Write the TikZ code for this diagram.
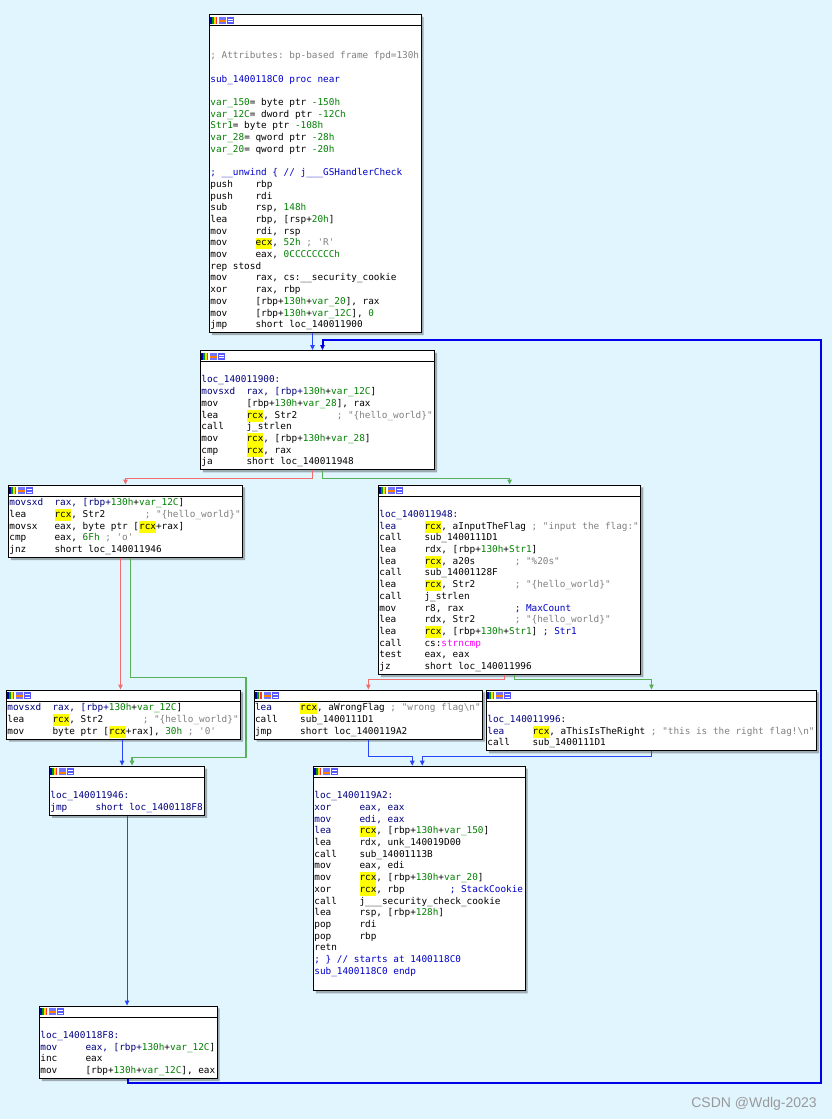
\documentclass[tikz,border=0pt]{standalone}
\usepackage{fontspec}
\setmonofont{DejaVu Sans Mono}
\newfontfamily\markfont{Liberation Sans}
\usepackage{tikz}
\usetikzlibrary{shapes.multipart, arrows.meta, shadows}
\usepackage{xcolor}

\definecolor{graphbg}{RGB}{225,245,255}
\definecolor{asmnavy}{RGB}{0,0,128}
\definecolor{asmgreen}{RGB}{0,128,0}
\definecolor{asmgray}{RGB}{128,128,128}
\definecolor{asmblue}{RGB}{0,0,200}
\definecolor{asmpink}{RGB}{255,0,255}
\definecolor{asmyellow}{RGB}{255,255,0}
\definecolor{edgeblue}{RGB}{40,70,255}
\definecolor{edgered}{RGB}{240,110,110}
\definecolor{edgegreen}{RGB}{90,175,90}
\definecolor{loopblue}{RGB}{0,0,235}

\setlength{\fboxsep}{0pt}
% fixed pitch font, every space one character wide
\newcommand{\asmfont}{\ttfamily\fontsize{9.37pt}{11.7pt}\selectfont
  \fontdimen2\font=5.64pt\relax\fontdimen3\font=0pt\relax\fontdimen4\font=0pt\relax
  \spaceskip=5.64pt\relax\xspaceskip=5.64pt\relax\frenchspacing}
% one instruction: mnemonic column is 8 characters wide
\newcommand{\ins}[2]{\strut\makebox[45.12pt][l]{#1}#2}
% operands padded up to the comment column
\newcommand{\pad}[1]{\makebox[90.24pt][l]{#1}}
\newcommand{\reg}[1]{\colorbox{asmyellow}{\strut #1}}
\newcommand{\imm}[1]{\textcolor{asmgreen}{#1}}
\newcommand{\cmg}[1]{\textcolor{asmgray}{#1}}
\newcommand{\cmb}[1]{\textcolor{asmblue}{#1}}
\newcommand{\hdricons}{\rule{0pt}{8.5pt}%
  \raisebox{0.7pt}{\textcolor{blue!70!black}{\rule{1.75pt}{7pt}}\textcolor{green!60!black}{\rule{1.75pt}{7pt}}%
  \textcolor{yellow!90!red}{\rule{1.75pt}{7pt}}\textcolor{red!80}{\rule{1.75pt}{7pt}}}\hspace{1.5pt}%
  \raisebox{0.7pt}{\textcolor{blue!55}{\rule{7pt}{7pt}}}\hspace{-7pt}\raisebox{2.5pt}{\textcolor{orange}{\rule{7pt}{2pt}}}\hspace{1.5pt}%
  \raisebox{0.7pt}{\textcolor{blue!65}{\rule{7pt}{7pt}}}\hspace{-6pt}\raisebox{2.2pt}{\textcolor{white}{\rule{5pt}{1pt}}}\hspace{-5pt}\raisebox{4.6pt}{\textcolor{white}{\rule{5pt}{1pt}}}}

\begin{document}
\begin{tikzpicture}[x=1pt, y=-1pt,
    blk/.style={rectangle split, rectangle split parts=2, draw=black, line width=0.8pt,
                fill=white, anchor=north west, inner xsep=1pt, inner ysep=1pt, align=flush left,
                font=\asmfont, text=asmnavy,
                drop shadow={shadow xshift=2.5pt, shadow yshift=-2.5pt, fill=black, opacity=0.3}},
    flow/.style={draw=edgeblue, line width=1pt, -{Triangle[length=5pt,width=4.5pt]}},
    jtrue/.style={flow, draw=edgegreen, line width=1.3pt},
    jfalse/.style={flow, draw=edgered, line width=1.3pt},
    back/.style={flow, draw=loopblue, line width=2pt}]

  \useasboundingbox (0,0) rectangle (832,1119);
  \fill[graphbg] (0,0) rectangle (832,1119);

  \node[blk, text width=209.7pt] (fn) at (209,14) {\hdricons
    \nodepart{two}\strut\\ \strut\\
    \cmg{; Attributes: bp-based frame fpd=130h}\\ \strut\\
    \cmb{sub\_1400118C0 proc near}\\ \strut\\
    \imm{var\_150}= byte ptr \imm{-150h}\\
    \imm{var\_12C}= dword ptr \imm{-12Ch}\\
    \imm{Str1}= byte ptr \imm{-108h}\\
    \imm{var\_28}= qword ptr \imm{-28h}\\
    \imm{var\_20}= qword ptr \imm{-20h}\\ \strut\\
    \cmb{; \_\_unwind \{ // j\_\_\_GSHandlerCheck}\\
    \ins{push}{rbp}\\
    \ins{push}{rdi}\\
    \ins{sub}{rsp, \imm{148h}}\\
    \ins{lea}{rbp, [rsp+\imm{20h}]}\\
    \ins{mov}{rdi, rsp}\\
    \ins{mov}{\reg{ecx}, \imm{52h} \cmg{; 'R'}}\\
    \ins{mov}{eax, \imm{0CCCCCCCCh}}\\
    rep stosd\\
    \ins{mov}{rax, cs:\_\_security\_cookie}\\
    \ins{xor}{rax, rbp}\\
    \ins{mov}{[rbp+\imm{130h}+\imm{var\_20}], rax}\\
    \ins{mov}{[rbp+\imm{130h}+\imm{var\_12C}], \imm{0}}\\
    \ins{jmp}{short loc\_140011900}};

  \node[blk, text width=232.2pt] (l900) at (200,350) {\hdricons
    \nodepart{two}\strut\\
    loc\_140011900:\\
    \ins{movsxd}{rax, [rbp+\imm{130h}+\imm{var\_12C}]}\\
    \ins{mov}{[rbp+\imm{130h}+\imm{var\_28}], rax}\\
    \ins{lea}{\pad{\reg{rcx}, Str2}\cmg{; "\{hello\_world\}"}}\\
    \ins{call}{j\_strlen}\\
    \ins{mov}{\reg{rcx}, [rbp+\imm{130h}+\imm{var\_28}]}\\
    \ins{cmp}{\reg{rcx}, rax}\\
    \ins{ja}{short loc\_140011948}};

  \node[blk, text width=232.2pt] (chk) at (8,484.5) {\hdricons
    \nodepart{two}\ins{movsxd}{rax, [rbp+\imm{130h}+\imm{var\_12C}]}\\
    \ins{lea}{\pad{\reg{rcx}, Str2}\cmg{; "\{hello\_world\}"}}\\
    \ins{movsx}{eax, byte ptr [\reg{rcx}+rax]}\\
    \ins{cmp}{eax, \imm{6Fh} \cmg{; 'o'}}\\
    \ins{jnz}{short loc\_140011946}};

  \node[blk, text width=260.4pt] (l948) at (378,484.5) {\hdricons
    \nodepart{two}\strut\\
    loc\_140011948:\\
    \ins{lea}{\reg{rcx}, aInputTheFlag \cmg{; "input the flag:"}}\\
    \ins{call}{sub\_1400111D1}\\
    \ins{lea}{rdx, [rbp+\imm{130h}+\imm{Str1}]}\\
    \ins{lea}{\pad{\reg{rcx}, a20s}\cmg{; "\%20s"}}\\
    \ins{call}{sub\_14001128F}\\
    \ins{lea}{\pad{\reg{rcx}, Str2}\cmg{; "\{hello\_world\}"}}\\
    \ins{call}{j\_strlen}\\
    \ins{mov}{\pad{r8, rax}\cmb{; MaxCount}}\\
    \ins{lea}{\pad{rdx, Str2}\cmg{; "\{hello\_world\}"}}\\
    \ins{lea}{\reg{rcx}, [rbp+\imm{130h}+\imm{Str1}] \cmb{; Str1}}\\
    \ins{call}{cs:\textcolor{asmpink}{strncmp}}\\
    \ins{test}{eax, eax}\\
    \ins{jz}{short loc\_140011996}};

  \node[blk, text width=232.2pt] (setz) at (6,689.5) {\hdricons
    \nodepart{two}\ins{movsxd}{rax, [rbp+\imm{130h}+\imm{var\_12C}]}\\
    \ins{lea}{\pad{\reg{rcx}, Str2}\cmg{; "\{hello\_world\}"}}\\
    \ins{mov}{byte ptr [\reg{rcx}+rax], \imm{30h} \cmg{; '0'}}};

  \node[blk, text width=226.6pt] (wrong) at (253.7,689.5) {\hdricons
    \nodepart{two}\ins{lea}{\reg{rcx}, aWrongFlag \cmg{; "wrong flag\textbackslash n"}}\\
    \ins{call}{sub\_1400111D1}\\
    \ins{jmp}{short loc\_1400119A2}};

  \node[blk, text width=328.1pt] (l996) at (486,689.5) {\hdricons
    \nodepart{two}\strut\\
    loc\_140011996:\\
    \ins{lea}{\reg{rcx}, aThisIsTheRight \cmg{; "this is the right flag!\textbackslash n"}}\\
    \ins{call}{sub\_1400111D1}};

  \node[blk, text width=153.3pt] (l946) at (49,765.7) {\hdricons
    \nodepart{two}\strut\\
    loc\_140011946:\\
    \ins{jmp}{short loc\_1400118F8}};

  \node[blk, text width=209.7pt] (l9a2) at (313,765.7) {\hdricons
    \nodepart{two}\strut\\
    loc\_1400119A2:\\
    \ins{xor}{eax, eax}\\
    \ins{mov}{edi, eax}\\
    \ins{lea}{\reg{rcx}, [rbp+\imm{130h}+\imm{var\_150}]}\\
    \ins{lea}{rdx, unk\_140019D00}\\
    \ins{call}{sub\_14001113B}\\
    \ins{mov}{eax, edi}\\
    \ins{mov}{\reg{rcx}, [rbp+\imm{130h}+\imm{var\_20}]}\\
    \ins{xor}{\pad{\reg{rcx}, rbp}\cmb{; StackCookie}}\\
    \ins{call}{j\_\_\_security\_check\_cookie}\\
    \ins{lea}{rsp, [rbp+\imm{128h}]}\\
    \ins{pop}{rdi}\\
    \ins{pop}{rbp}\\
    retn\\
    \cmb{; \} // starts at 1400118C0}\\
    \cmb{sub\_1400118C0 endp}\\
    \strut};

  \node[blk, text width=175.8pt] (l8f8) at (39,1005.5) {\hdricons
    \nodepart{two}\strut\\
    loc\_1400118F8:\\
    \ins{mov}{eax, [rbp+\imm{130h}+\imm{var\_12C}]}\\
    \ins{inc}{eax}\\
    \ins{mov}{[rbp+\imm{130h}+\imm{var\_12C}], eax}};

  \node[font=\markfont\fontsize{14pt}{16pt}\selectfont, text=black!40, anchor=base east,
        inner sep=0pt] (mark) at (817,1107) {CSDN @Wdlg-2023};

  \coordinate (loopR) at (821,1083);

  \draw[flow] ([xshift=-5pt]l900.north |- fn.south) -- ([xshift=-5pt]l900.north);
  \draw[jfalse] ([xshift=-5pt]l900.south) -- ++(0,8) -| (chk.north);
  \draw[jtrue] ([xshift=5pt]l900.south) -- ++(0,8) -| (l948.north);
  \draw[jfalse] ([xshift=-5pt]chk.south) -- ([xshift=-5pt]chk.south |- setz.north);
  \draw[jtrue] ([xshift=5pt]chk.south) |- ([xshift=5pt,yshift=12pt]setz.north east)
               |- ([xshift=5pt,yshift=8pt]l946.north) -- ([xshift=5pt]l946.north);
  \draw[flow] ([xshift=-5pt]l946.north |- setz.south) -- ([xshift=-5pt]l946.north);
  \draw[jfalse] ([xshift=-5pt]l948.south) |- ([yshift=10pt]wrong.north) -- (wrong.north);
  \draw[jtrue] ([xshift=5pt]l948.south) |- ([yshift=10pt]l996.north) -- (l996.north);
  \draw[flow] (wrong.south) |- ([xshift=-7pt,yshift=9pt]l9a2.north) -- ([xshift=-7pt]l9a2.north);
  \draw[flow] (l996.south) |- ([xshift=3pt,yshift=9pt]l9a2.north) -- ([xshift=3pt]l9a2.north);
  \draw[flow] (l946.south) -- (l946.south |- l8f8.north);
  \draw[back] (l8f8.south) |- (loopR) |- ([xshift=5pt,yshift=10pt]l900.north)
              -- ([xshift=5pt]l900.north);
\end{tikzpicture}
\end{document}
